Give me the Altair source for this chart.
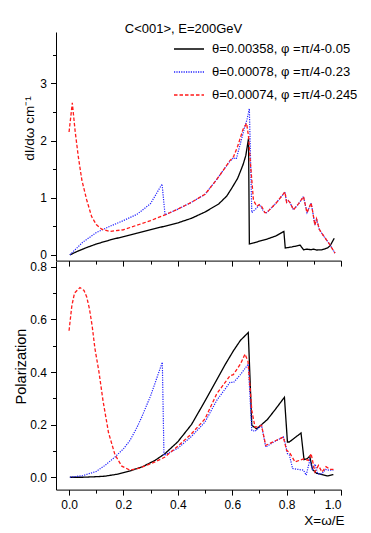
import altair as alt
import pandas as pd

SERIES = ["θ=0.00358, φ =π/4-0.05", "θ=0.00078, φ =π/4-0.23", "θ=0.00074, φ =π/4-0.245"]
COLORS = ["#000000", "#2222ff", "#ff1a1a"]
DASHES = [[1, 0], [1.2, 1.2], [3.5, 2]]
WIDTHS = [1.3, 1.2, 1.3]

# ---- top panel: dI/dw ----
top_black_x = [0.003, 0.03, 0.06, 0.1, 0.15, 0.2, 0.25, 0.3, 0.35, 0.4, 0.45, 0.5, 0.55, 0.58, 0.6, 0.62,
               0.64, 0.65, 0.66, 0.663, 0.68, 0.7, 0.73, 0.76, 0.79, 0.795, 0.82, 0.85, 0.862, 0.875, 0.89,
               0.9, 0.91, 0.93, 0.95, 0.96, 0.975]
top_black_y = [0.0, 0.06, 0.12, 0.19, 0.26, 0.32, 0.38, 0.44, 0.5, 0.56, 0.64, 0.75, 0.89, 1.03, 1.18, 1.34,
               1.58, 1.74, 2.04, 0.19, 0.21, 0.24, 0.28, 0.33, 0.41, 0.12, 0.14, 0.17, 0.09, 0.1, 0.09,
               0.1, 0.085, 0.09, 0.12, 0.16, 0.29]

top_blue_x = [0.003, 0.05, 0.1, 0.15, 0.2, 0.25, 0.3, 0.342, 0.353, 0.4, 0.45, 0.5, 0.54, 0.57, 0.59, 0.605,
              0.615, 0.63, 0.645, 0.655, 0.663, 0.672, 0.69, 0.7, 0.71, 0.72, 0.727, 0.76, 0.794, 0.8, 0.806,
              0.812, 0.825, 0.845, 0.862, 0.875, 0.885, 0.89, 0.898, 0.904, 0.91, 0.92, 0.929, 0.947, 0.96,
              0.978]
top_blue_y = [0.0, 0.22, 0.39, 0.5, 0.6, 0.71, 0.9, 1.24, 0.7, 0.8, 0.92, 1.06, 1.3, 1.5, 1.63, 1.7,
              1.68, 1.95, 2.22, 2.38, 2.56, 0.74, 0.82, 0.88, 0.8, 0.74, 0.74, 0.9, 1.1, 0.92, 0.95,
              0.92, 0.79, 0.9, 1.02, 0.74, 0.85, 0.91, 0.7, 0.52, 0.63, 0.45, 0.38, 0.26, 0.17,
              0.03]

top_red_x = [0.0, 0.012, 0.022, 0.034, 0.047, 0.065, 0.083, 0.1, 0.12, 0.15, 0.2, 0.25, 0.3, 0.353, 0.4,
             0.45, 0.5, 0.54, 0.57, 0.59, 0.605, 0.62, 0.64, 0.653, 0.66, 0.667, 0.678, 0.69, 0.7, 0.708,
             0.72, 0.727, 0.76, 0.794, 0.8, 0.806, 0.812, 0.825, 0.845, 0.862, 0.875, 0.885, 0.89, 0.898,
             0.904, 0.91, 0.92, 0.929, 0.947, 0.96, 0.978]
top_red_y = [2.15, 2.66, 2.18, 1.72, 1.31, 0.96, 0.67, 0.53, 0.45, 0.41, 0.44, 0.52, 0.6, 0.7, 0.8,
             0.92, 1.06, 1.3, 1.5, 1.64, 1.72, 1.9, 2.2, 2.3, 2.07, 1.6, 0.96, 0.85, 0.88, 0.85,
             0.74, 0.74, 0.9, 1.1, 0.92, 0.95, 0.92, 0.79, 0.9, 1.02, 0.74, 0.85, 0.91, 0.7,
             0.52, 0.63, 0.45, 0.38, 0.26, 0.17, 0.03]

# ---- bottom panel: polarization ----
bot_black_x = [0.003, 0.05, 0.1, 0.132, 0.18, 0.224, 0.27, 0.316, 0.353, 0.4, 0.45, 0.5, 0.543, 0.575,
               0.604, 0.63, 0.659, 0.672, 0.69, 0.73, 0.76, 0.792, 0.803, 0.81, 0.83, 0.853, 0.864, 0.875,
               0.885, 0.895, 0.91, 0.93, 0.95, 0.972]
bot_black_y = [0.0, 0.0, 0.002, 0.004, 0.012, 0.024, 0.04, 0.064, 0.09, 0.135, 0.2, 0.29, 0.37, 0.43,
               0.48, 0.52, 0.55, 0.197, 0.184, 0.22, 0.26, 0.304, 0.134, 0.134, 0.15, 0.168, 0.067, 0.07,
               0.08, 0.03, 0.015, 0.01, 0.005, 0.01]

bot_blue_x = [0.003, 0.05, 0.1, 0.132, 0.169, 0.2, 0.224, 0.25, 0.267, 0.3, 0.343, 0.349, 0.4, 0.45, 0.5,
              0.543, 0.592, 0.605, 0.63, 0.659, 0.672, 0.684, 0.708, 0.723, 0.755, 0.788, 0.795, 0.803,
              0.81, 0.822, 0.84, 0.862, 0.872, 0.885, 0.895, 0.905, 0.914, 0.93, 0.943, 0.955, 0.972]
bot_blue_y = [0.0, 0.006, 0.022, 0.045, 0.077, 0.108, 0.14, 0.19, 0.228, 0.31, 0.437, 0.083, 0.11, 0.155,
              0.21, 0.292, 0.361, 0.36, 0.39, 0.43, 0.178, 0.175, 0.197, 0.115, 0.135, 0.153, 0.13, 0.09,
              0.085, 0.033, 0.03, 0.027, 0.008, 0.064, 0.03, 0.05, 0.013, 0.013, 0.03, 0.027, 0.027]

bot_red_x = [0.0, 0.01, 0.02, 0.04, 0.055, 0.065, 0.075, 0.085, 0.095, 0.11, 0.125, 0.145, 0.169, 0.194,
             0.224, 0.26, 0.316, 0.353, 0.4, 0.45, 0.5, 0.543, 0.592, 0.604, 0.63, 0.647, 0.658, 0.665,
             0.672, 0.684, 0.708, 0.723, 0.755, 0.788, 0.8, 0.81, 0.831, 0.862, 0.88, 0.89, 0.904, 0.917,
             0.93, 0.945, 0.96, 0.972]
bot_red_y = [0.557, 0.65, 0.7, 0.721, 0.71, 0.685, 0.64, 0.575, 0.49, 0.4, 0.29, 0.17, 0.085, 0.042,
             0.027, 0.035, 0.058, 0.077, 0.118, 0.165, 0.222, 0.317, 0.386, 0.39, 0.43, 0.468, 0.44, 0.35,
             0.254, 0.19, 0.197, 0.121, 0.137, 0.153, 0.102, 0.095, 0.058, 0.07, 0.064, 0.09, 0.02, 0.045,
             0.02, 0.04, 0.03, 0.03]

X_TICKS = [round(i * 0.1, 1) for i in range(11)]
TOP_Y_TICKS = [i * 0.5 for i in range(8)]
BOT_Y_TICKS = [round(i * 0.1, 1) for i in range(9)]

FONT = "Liberation Sans"
W = 285
H = 228.6

def frame(xs, ys, s):
    return pd.DataFrame({"x": xs, "y": ys, "s": s, "i": list(range(len(xs)))})

legend = alt.Legend(orient="none", legendX=117, legendY=1, title=None, symbolType="stroke",
                    symbolSize=900, symbolStrokeWidth=1.3, labelFontSize=13, labelFont=FONT,
                    labelColor="black", rowPadding=0, labelOffset=7, padding=0)

color_scale = alt.Scale(domain=SERIES, range=COLORS)
dash_scale = alt.Scale(domain=SERIES, range=DASHES)
xscale = alt.Scale(domain=[-0.048, 1.0], nice=False, zero=False)

def axis_common(**kw):
    base = dict(domainColor="black", tickColor="black", labelColor="black", titleColor="black",
                labelFont=FONT, titleFont=FONT, labelFontSize=12, titleFontSize=13.5,
                titleFontWeight="normal", grid=False, domainWidth=1, tickWidth=1)
    base.update(kw)
    return alt.Axis(**base)

def panel(data, yscale, xaxis, yaxis):
    layers = []
    for (xs, ys), name, w in zip(data, SERIES, WIDTHS):
        layers.append(
            alt.Chart(frame(xs, ys, name)).mark_line(strokeWidth=w, clip=True).encode(
                x=alt.X("x:Q", scale=xscale, axis=xaxis),
                y=alt.Y("y:Q", scale=yscale, axis=yaxis),
                color=alt.Color("s:N", scale=color_scale, legend=legend),
                strokeDash=alt.StrokeDash("s:N", scale=dash_scale, legend=legend),
                order="i:Q",
            )
        )
    return alt.layer(*layers)

x_minor_test = "round(datum.value*10) % 2 != 0"

top_xaxis = axis_common(values=X_TICKS, labels=False, title=None,
                        tickSize={"condition": {"test": x_minor_test, "value": 3.5}, "value": 5.5})
top_yaxis = axis_common(values=TOP_Y_TICKS, format=".0f", title="dI/dω cm⁻¹",
                        labelExpr="datum.value % 1 == 0 ? datum.label : ''",
                        tickSize={"condition": {"test": "datum.value % 1 != 0", "value": 3.5}, "value": 5.5},
                        labelPadding=4, titleAngle=270, titleX=-23, titleY=96, titleBaseline="alphabetic")
bot_xaxis = axis_common(values=X_TICKS, format=".1f", title="X=ω/E",
                        labelExpr="round(datum.value*10) % 2 == 0 ? datum.label : ''",
                        tickSize={"condition": {"test": x_minor_test, "value": 3.5}, "value": 5.5},
                        labelPadding=4, titleX=W + 3, titleAlign="right", titlePadding=3)
bot_yaxis = axis_common(values=BOT_Y_TICKS, format=".1f", title="Polarization", titleFontSize=14.5,
                        labelExpr="round(datum.value*10) % 2 == 0 ? datum.label : ''",
                        tickSize={"condition": {"test": "round(datum.value*10) % 2 != 0", "value": 3.5}, "value": 5.5},
                        labelPadding=4, titleAngle=270, titleX=-31, titleY=105, titleBaseline="alphabetic")

top = panel([(top_black_x, top_black_y), (top_blue_x, top_blue_y), (top_red_x, top_red_y)],
            alt.Scale(domain=[-0.1, 3.9], nice=False, zero=False), top_xaxis, top_yaxis).properties(
    width=W, height=H,
    title=alt.TitleParams("C<001>, E=200GeV", font=FONT, fontSize=13, fontWeight="normal",
                          color="black", anchor="middle", dx=-15, offset=-4))

bottom = panel([(bot_black_x, bot_black_y), (bot_blue_x, bot_blue_y), (bot_red_x, bot_red_y)],
               alt.Scale(domain=[-0.047, 0.822], nice=False, zero=False), bot_xaxis, bot_yaxis).properties(
    width=W, height=H)

chart = alt.vconcat(top, bottom, spacing=0, bounds="flush").properties(
    padding={"left": 5, "top": 15, "right": 5, "bottom": 5},
    background="white",
).configure_view(stroke=None)

chart.save("out.html", embed_options={"renderer": "svg", "actions": False})
